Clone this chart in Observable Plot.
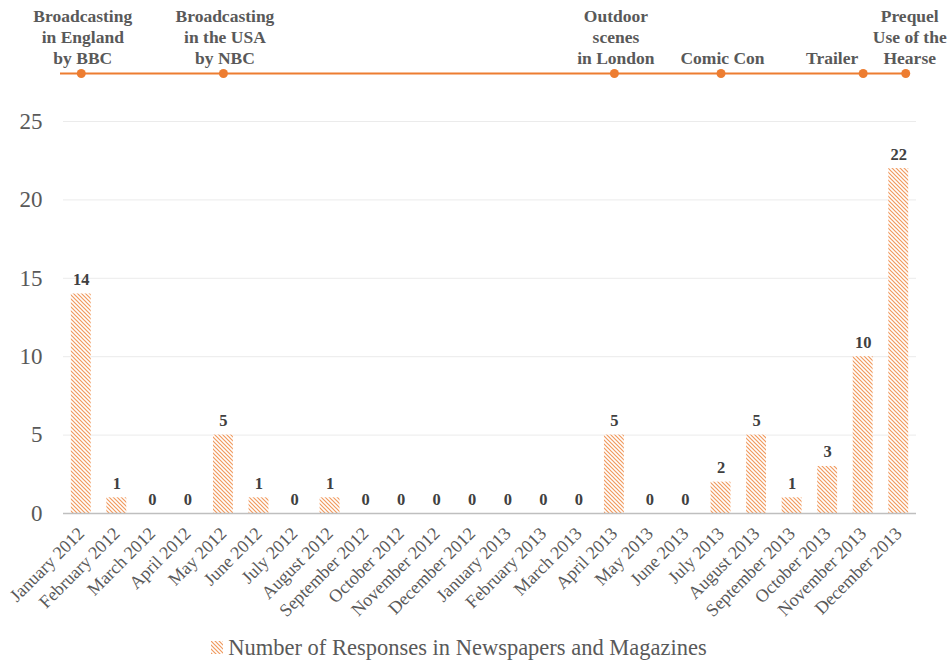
<!DOCTYPE html>
<html>
<head>
<meta charset="utf-8">
<script src="https://cdn.jsdelivr.net/npm/d3@7"></script>
<script src="https://cdn.jsdelivr.net/npm/@observablehq/plot@0.6"></script>
<style>
  body { margin: 0; background: #fff; }
  #legend { height: 39px; box-sizing: border-box; padding-top: 6px; padding-right: 29px; display: flex; justify-content: center; align-items: center; font-family: "Liberation Serif", "Times New Roman", serif; font-size: 22.5px; color: #595959; }
  #legend svg { margin-right: 5px; }
</style>
</head>
<body>
<div id="chart"></div>
<div id="legend"></div>
<script>
const months = ["January 2012","February 2012","March 2012","April 2012","May 2012","June 2012","July 2012","August 2012","September 2012","October 2012","November 2012","December 2012","January 2013","February 2013","March 2013","April 2013","May 2013","June 2013","July 2013","August 2013","September 2013","October 2013","November 2013","December 2013"];
const responses = [14,1,0,0,5,1,0,1,0,0,0,0,0,0,0,5,0,0,2,5,1,3,10,22];
const yTicks = [0,5,10,15,20,25];
const eventMonths = ["January 2012","May 2012","April 2013","July 2013","November 2013","December 2013"];
const eventLabels = ["Broadcasting\nin England\nby BBC","Broadcasting\nin the USA\nby NBC","Outdoor\nscenes\nin London","Comic Con","Trailer","Prequel\nUse of the\nHearse"];
const seriesName = "Number of Responses in Newspapers and Magazines";

const data = months.map((m, i) => ({month: m, value: responses[i]}));
const events = eventMonths.map((m, i) => ({month: m, label: eventLabels[i]}));
const orange = "#ED7D31";
const serif = '"Liberation Serif", "Times New Roman", serif';
const isLast = d => d.month === "December 2013";
const isTrailer = d => d.label === "Trailer";

const chart = Plot.plot({
  width: 947,
  height: 625,
  marginTop: 121,
  marginBottom: 112,
  marginLeft: 63,
  marginRight: 31,
  style: {fontFamily: serif, background: "#fff"},
  x: {domain: months, paddingInner: 0.44, paddingOuter: 0.22, round: false, axis: null},
  y: {domain: [0, 25], axis: null},
  marks: [
    Plot.gridY(yTicks, {stroke: "#ebebeb", strokeOpacity: 1}),
    Plot.axisY(yTicks, {tickSize: 0, tickPadding: 21, fontSize: 23, fill: "#595959", label: null}),
    Plot.barY(data, {x: "month", y: "value", fill: "url(#hatch)"}),
    Plot.ruleY([0], {stroke: "#bfbfbf", strokeWidth: 1.3}),
    Plot.axisX({tickSize: 0, tickRotate: -45, tickPadding: 17, fontSize: 18, fill: "#595959", label: null}),
    Plot.text(data, {x: "month", y: "value", text: d => String(d.value), lineAnchor: "bottom", dy: -9, fontSize: 16.5, fontWeight: "bold", fill: "#404040"}),
    // timeline
    Plot.ruleY([25], {stroke: orange, strokeWidth: 2, dy: -48, insetLeft: -3, insetRight: 9}),
    Plot.dot(events.filter(d => !isLast(d)), {x: "month", frameAnchor: "top", dy: -48, r: 4.5, fill: orange, stroke: null}),
    Plot.dot(events.filter(isLast), {x: "month", frameAnchor: "top", dy: -48, dx: 7, r: 4.5, fill: orange, stroke: null}),
    Plot.text(events.filter(d => !isLast(d) && !isTrailer(d)), {x: "month", text: "label", frameAnchor: "top", lineAnchor: "bottom", dy: -58, dx: 1.5, lineHeight: 1.2, fontSize: 17.5, fontWeight: "bold", fill: "#595959"}),
    Plot.text(events.filter(isTrailer), {x: "month", text: "label", frameAnchor: "top", lineAnchor: "bottom", dy: -58, dx: -31, lineHeight: 1.2, fontSize: 17.5, fontWeight: "bold", fill: "#595959"}),
    Plot.text(events.filter(isLast), {x: "month", text: "label", frameAnchor: "top", lineAnchor: "bottom", dy: -58, dx: 11, lineHeight: 1.2, fontSize: 17.5, fontWeight: "bold", fill: "#595959"})
  ]
});

const patternDefs = `<pattern id="hatch" patternUnits="userSpaceOnUse" width="4" height="4">
  <rect width="4" height="4" fill="#fff"/>
  <path d="M-1,-1 L5,5 M-1,3 L1,5 M3,-1 L5,1" stroke="#F19A5E" stroke-width="1.2"/>
</pattern>`;
const defs = document.createElementNS("http://www.w3.org/2000/svg", "defs");
defs.innerHTML = patternDefs;
chart.insertBefore(defs, chart.firstChild);
document.getElementById("chart").appendChild(chart);

const legend = document.getElementById("legend");
legend.innerHTML = `<svg width="12" height="13"><defs>${patternDefs.replace('id="hatch"', 'id="hatch2"')}</defs><rect width="12" height="13" fill="url(#hatch2)"/></svg><span>${seriesName}</span>`;
</script>
</body>
</html>
